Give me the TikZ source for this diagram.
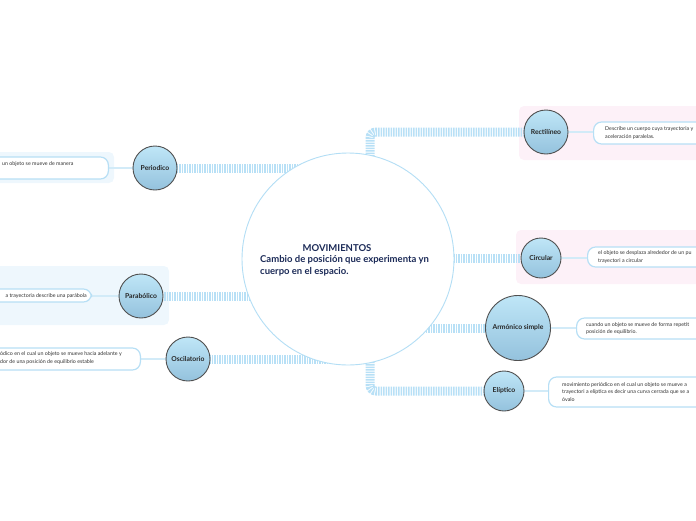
\documentclass[tikz,border=0pt]{standalone}
\usepackage{fontspec}
\setmainfont{Lato}
\usetikzlibrary{positioning}
\pgfdeclarelayer{panels}
\pgfdeclarelayer{links}
\pgfsetlayers{panels,links,main}
\definecolor{navy}{HTML}{1B2A57}
\definecolor{ring}{HTML}{B3DEF5}
\definecolor{stripe}{HTML}{B8E0F6}
\definecolor{leashcol}{HTML}{D2EBF8}
\definecolor{boxline}{HTML}{B7DFF5}
\definecolor{pinkbg}{HTML}{FDF1F8}
\definecolor{bluebg}{HTML}{EEF7FD}
\definecolor{balltop}{HTML}{BFE6F7}
\definecolor{ballbot}{HTML}{94C2DD}
\definecolor{ballrim}{HTML}{505050}
\definecolor{txt}{HTML}{333333}
\tikzset{
  ball/.style={circle, draw=ballrim, line width=0.9pt, top color=balltop,
    bottom color=ballbot, inner sep=0pt, text=black!85,
    font=\fontsize{6.8}{8}\selectfont\bfseries},
  descbox/.style={draw=boxline, line width=1.2pt, fill=white, rounded corners=8pt,
    inner sep=0pt},
  desc/.style={inner sep=0pt, align=left, text=txt, font=\fontsize{5.3}{7.6}\selectfont},
  stripes/.style={stripe, line width=9pt, dash pattern=on 1.5pt off 1pt},
  leash/.style={leashcol, line width=1.5pt},
  panel/.style={rounded corners=5pt}
}
\begin{document}
\begin{tikzpicture}[x=1pt,y=-1pt]
  \useasboundingbox (0,0) rectangle (696,520);
  \clip (0,0) rectangle (696,520);

  % central topic
  \node[circle, draw=ring, line width=0.9pt, fill=white, minimum size=212pt,
    inner sep=0pt] (main) at (348,259) {};
  \node[text=navy, font=\fontsize{9.5}{12}\selectfont\bfseries] (title) at (337,248) {MOVIMIENTOS};
  \node[text=navy, font=\fontsize{9.5}{12}\selectfont\bfseries, align=left, anchor=west,
    inner sep=0pt] (subtitle) at (260,266) {Cambio de posición que experimenta yn\\cuerpo en el espacio.};

  % subtopics
  \node[ball, minimum size=44pt] (rect) at (546,132) {Rectilíneo};
  \node[ball, minimum size=40pt] (circ) at (541,258) {Circular};
  \node[ball, minimum size=65pt] (armo) at (518,328) {Armónico simple};
  \node[ball, minimum size=40pt] (elip) at (504,391) {Elíptico};
  \node[ball, minimum size=44pt] (peri) at (155,168) {Periodico};
  \node[ball, minimum size=44pt] (para) at (141,296) {Parabólico};
  \node[ball, minimum size=44pt] (osci) at (188,359) {Oscilatorio};

  % notes on the right
  \node[descbox, minimum width=140pt, minimum height=22pt, anchor=west] (rectbox) at (593,133) {};
  \node[desc, anchor=west] (recttxt) at ([xshift=12pt]rectbox.west)
    {Describe un cuerpo cuya trayectoria y\\aceleración paralelas.};
  \node[descbox, minimum width=140pt, minimum height=20pt, anchor=west] (circbox) at (587,257) {};
  \node[desc, anchor=west] (circtxt) at ([xshift=11pt]circbox.west)
    {el objeto se desplaza alrededor de un pu\\trayectori a circular};
  \node[descbox, minimum width=150pt, minimum height=21pt, anchor=west] (armobox) at (576,328.5) {};
  \node[desc, anchor=west] (armotxt) at ([xshift=10pt]armobox.west)
    {cuando un objeto se mueve de forma repetit\\posición de equilibrio.};
  \node[descbox, minimum width=170pt, minimum height=30pt, anchor=west] (elipbox) at (548,392) {};
  \node[desc, anchor=west] (eliptxt) at ([xshift=14pt]elipbox.west)
    {movimiento periódico en el cual un objeto se mueve a\\trayectori a elíptica es decir una curva cerrada que se a\\óvalo};

  % notes on the left
  \node[descbox, minimum width=130pt, minimum height=22pt, anchor=east] (peribox) at (109,168) {};
  \node[desc, anchor=west] (peritxt) at (2,164) {un objeto se mueve de manera};
  \node[descbox, minimum width=110pt, minimum height=13pt, anchor=east] (parabox) at (92,295.5) {};
  \node[desc, anchor=east] (paratxt) at (87,296) {a trayectoria describe una parábola};
  \node[descbox, minimum width=160pt, minimum height=22pt, anchor=east] (oscibox) at (141,359) {};
  \node[desc, anchor=west] (oscitxt) at (0,358)
    {ódico en el cual un objeto se mueve hacia adelante y\\dor de una posición de equilibrio estable};

  \begin{pgfonlayer}{panels}
    \fill[pinkbg, panel] (519,106) rectangle (720,160);
    \fill[pinkbg, panel] (516,230) rectangle (720,284);
    \fill[bluebg, panel] (-20,152) rectangle (114,183);
    \fill[bluebg, panel] (-20,266) rectangle (169,325);
  \end{pgfonlayer}

  \begin{pgfonlayer}{links}
    \draw[stripes, rounded corners=6pt] ([xshift=22pt]main.center) |- (rect.west);
    \draw[stripes] (main.center |- circ) -- (circ.west);
    \draw[stripes] (main.center |- armo) -- (armo.west);
    \draw[stripes, rounded corners=6pt] ([xshift=22pt]main.center) |- (elip.west);
    \draw[stripes] (main.center |- peri) -- (peri.east);
    \draw[stripes] (main.center |- para) -- (para.east);
    \draw[stripes] (main.center |- osci) -- (osci.east);
    \draw[leash] (rect.east) -- (rect.east -| rectbox.west);
    \draw[leash] (circ.east) -- (circ.east -| circbox.west);
    \draw[leash] (armo.east) -- (armo.east -| armobox.west);
    \draw[leash] (elip.east) -- (elip.east -| elipbox.west);
    \draw[leash] (peri.west) -- (peri.west -| peribox.east);
    \draw[leash] (para.west) -- (para.west -| parabox.east);
    \draw[leash] (osci.west) -- (osci.west -| oscibox.east);
  \end{pgfonlayer}
\end{tikzpicture}
\end{document}
